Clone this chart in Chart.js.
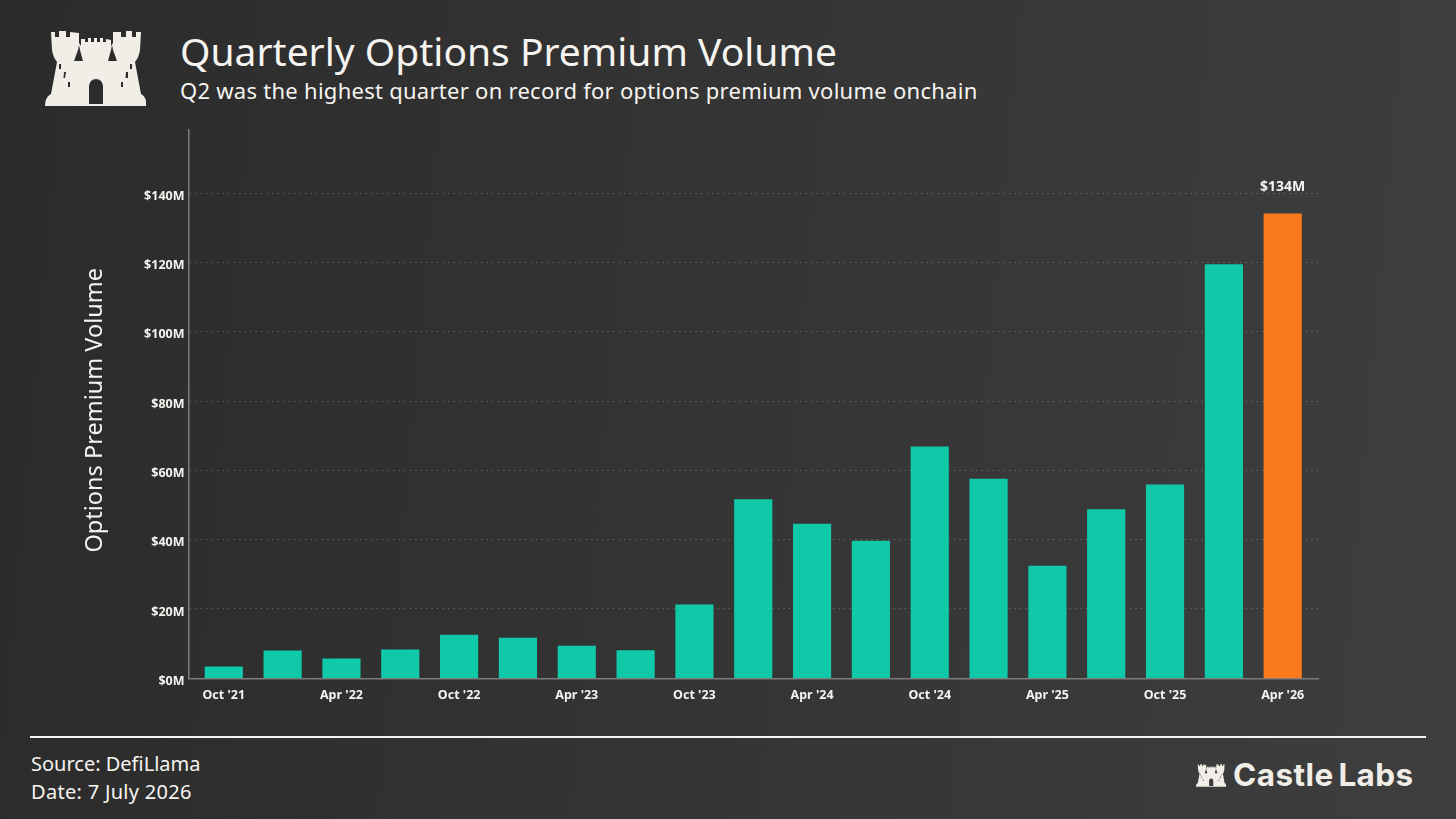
<!DOCTYPE html>
<html>
<head>
<meta charset="utf-8">
<title>Quarterly Options Premium Volume</title>
<script src="https://cdn.jsdelivr.net/npm/chart.js@4"></script>
<style>
    html, body { margin: 0; width: 1456px; height: 819px; overflow: hidden; }
    body { position: relative; background: linear-gradient(95deg, #2b2b2b 0%, #3e3e3e 100%); font-family: "Noto Sans", sans-serif; color: #f6f4f0; }
    canvas { position: absolute; left: 0; top: 0; }
    .text { position: absolute; white-space: nowrap; line-height: 1; }
    #title { left: 180px; top: 31px; font-size: 39px; letter-spacing: 0; }
    #subtitle { left: 180px; top: 79px; font-size: 22px; letter-spacing: 0.27px; }
    #source { left: 31px; top: 754px; font-size: 20px; }
    #date { left: 31px; top: 782px; font-size: 20px; letter-spacing: 0.3px; }
    #rule { position: absolute; left: 30px; top: 735.5px; width: 1396px; height: 2px; background: #f6f4f0; }
    #brand { left: 1233px; top: 759px; font-family: Inter, sans-serif; font-weight: 700; font-size: 31.5px; letter-spacing: 0.4px; word-spacing: -3px; color: #f1ede7; }
    svg { position: absolute; left: 0; top: 0; }
</style>
</head>
<body>
<svg width="1456" height="819">
    <defs>
        <path id="castle" fill="#f1ede7" fill-rule="evenodd" d="M45 106 L45.5 101 Q47 96 51 94 L57 62 Q53 57 52 50 L51 32 L55 32 L55 37 L59 37 L59 31 L66 31 L66 37 L70 37 L70 32 L79 33 L79 43 L81 46 L81 39 L85 39 L85 42 L88 42 L88 38 L91 38 L91 42 L94 42 L94 38 L97 38 L97 42 L100 42 L100 38 L103 38 L103 42 L106 42 L106 39 L111 40 L111 46 L113 43 L113 32 L121 32 L121 37 L126 37 L126 31 L132 31 L132 37 L136 37 L136 32 L141 32 L140 50 Q139 57 135 62 L141 94 Q145 96 146 101 L146 106 Z
        M74 61 L83 61 L80 50 L79 45 L78 50 Z
        M108 61 L117 61 L113 50 L112 45 L111 50 Z
        M89 104 L103 104 L103 86 Q102 79 96 79 Q90 79 89 86 Z
        M59 64 L61 64 L61 69 L59 69 Z
        M64 72 L66 72 L65 78 L63.5 78 Z
        M68 82 L70 82 L70 87 L68 87 Z
        M130 64 L132 64 L132 69 L130 69 Z
        M126 72 L128 72 L128 78 L125.5 78 Z
        M121 82 L123 82 L123 87 L121 87 Z"/>
    </defs>
    <use href="#castle"/>
    <use href="#castle" transform="translate(1196 764) scale(0.298) translate(-45 -30)"/>
</svg>

<div id="title" class="text">Quarterly Options Premium Volume</div>
<div id="subtitle" class="text">Q2 was the highest quarter on record for options premium volume onchain</div>
<div id="rule"></div>
<div id="source" class="text">Source: DefiLlama</div>
<div id="date" class="text">Date: 7 July 2026</div>
<div id="brand" class="text">Castle Labs</div>

<canvas id="premiumChart" width="1456" height="819"></canvas>

<script>
const quarterLabels = [
    "Oct '21", "Jan '22", "Apr '22", "Jul '22", "Oct '22", "Jan '23", "Apr '23",
    "Jul '23", "Oct '23", "Jan '24", "Apr '24", "Jul '24", "Oct '24", "Jan '25",
    "Apr '25", "Jul '25", "Oct '25", "Jan '26", "Apr '26"
];
const premiumVolume = [
    3.3, 7.9, 5.6, 8.2, 12.5, 11.6, 9.3, 8.0, 21.2, 51.6,
    44.5, 39.6, 66.8, 57.5, 32.4, 48.7, 55.8, 119.4, 134
];

const lastIndex = premiumVolume.length - 1;
const tickFont = { family: '"Noto Sans", sans-serif', size: 12.5, weight: '700' };

// writes the value over the latest quarter only
const lastBarLabel = {
    id: 'lastBarLabel',
    afterDatasetsDraw(chart) {
        const bar = chart.getDatasetMeta(0).data[lastIndex];
        const ctx = chart.ctx;
        ctx.save();
        ctx.fillStyle = '#f6f4f0';
        ctx.font = '700 14px "Noto Sans", sans-serif';
        ctx.textAlign = 'center';
        ctx.textBaseline = 'middle';
        ctx.fillText('$' + premiumVolume[lastIndex] + 'M', bar.x, 187);
        ctx.restore();
    }
};

new Chart(document.getElementById('premiumChart'), {
    type: 'bar',
    data: {
        datasets: [{
            data: premiumVolume.map((v, i) => ({ x: i, y: v })),
            barThickness: 37.5,
            backgroundColor: (c) => c.dataIndex === lastIndex ? '#f97a1c' : '#10c9a9'
        }]
    },
    options: {
        responsive: false,
        animation: false,
        layout: { padding: { top: 130, right: 138, left: 0, bottom: 0 } },
        plugins: { legend: { display: false }, tooltip: { enabled: false } },
        scales: {
            x: {
                type: 'linear',
                offset: false,
                min: -0.6,
                max: lastIndex + 0.6,
                grid: { display: false },
                border: { color: '#7c7c7c', width: 1.5 },
                afterBuildTicks: (scale) => {
                    // every second quarter gets a label
                    scale.ticks = quarterLabels.map((l, i) => ({ value: i })).filter((t) => t.value % 2 === 0);
                },
                afterFit: (scale) => { scale.height = 140.7; },
                ticks: {
                    color: '#f6f4f0',
                    font: tickFont,
                    padding: 2,
                    autoSkip: false,
                    maxRotation: 0,
                    callback: (v) => quarterLabels[v]
                }
            },
            y: {
                min: 0,
                max: 158.2,
                grid: {
                    color: 'rgba(255,255,255,0.22)',
                    lineWidth: 1,
                    drawTicks: false
                },
                border: { color: '#7c7c7c', width: 1.5, dash: [1.5, 4] },
                afterFit: (scale) => { scale.width = 188.5; },
                title: {
                    display: true,
                    // the two trailing spaces push the centred label a little below the axis middle
                    text: 'Options Premium Volume  ',
                    color: '#f6f4f0',
                    font: { family: '"Noto Sans", sans-serif', size: 23.5 },
                    padding: { top: 81, bottom: 0 }
                },
                ticks: {
                    stepSize: 20,
                    includeBounds: false,
                    color: '#f6f4f0',
                    font: tickFont,
                    padding: 4,
                    labelOffset: 3,
                    callback: (v) => '$' + v + 'M'
                }
            }
        }
    },
    plugins: [lastBarLabel]
});
</script>
</body>
</html>
